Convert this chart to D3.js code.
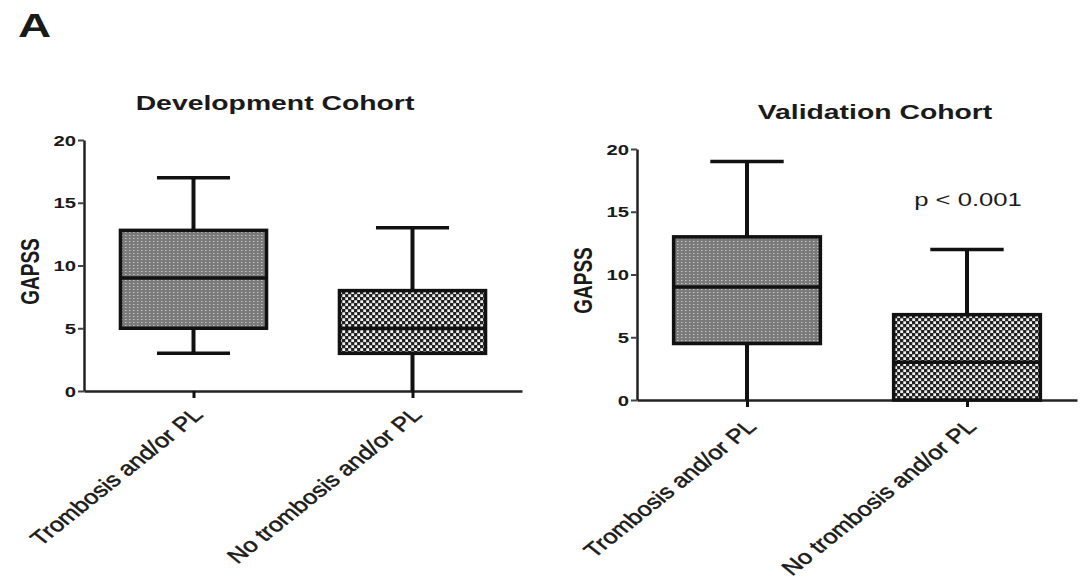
<!DOCTYPE html>
<html>
<head>
<meta charset="utf-8">
<script src="https://cdn.jsdelivr.net/npm/d3@7"></script>
<style>
  body { margin: 0; background: #fff; }
  text { font-family: Arial, "Liberation Sans", sans-serif; fill: #1a1a1a; }
</style>
</head>
<body>
<div class="container"></div>
<script>
// categories and tick labels
let groups = ["Trombosis and/or PL", "No trombosis and/or PL"];
let yTicks = [0, 5, 10, 15, 20];

// Development cohort box stats (per group)
let devMin = [3, 0],
    devQ1 = [5, 3],
    devMed = [9, 5],
    devQ3 = [12.8, 8],
    devMax = [17, 13];

// Validation cohort box stats
let valMin = [0, 0],
    valQ1 = [4.5, 0],
    valMed = [9, 3],
    valQ3 = [13, 6.8],
    valMax = [19, 12];

let sx = 1.35;  // the figure is stretched sideways, text too
let lsx = 1.25; // rotated labels look a bit less stretched

let svg = d3.select('.container')
            .append('svg')
            .attr('width', 1081)
            .attr('height', 581);

let defs = svg.append('defs');

// fine gray dotted fill
let p1 = defs.append('pattern')
             .attr('id', 'dots')
             .attr('patternUnits', 'userSpaceOnUse')
             .attr('width', 4).attr('height', 3);
p1.append('rect').attr('width', 4).attr('height', 3).attr('fill', '#7a7a7a');
p1.append('rect').attr('x', 1).attr('y', 1).attr('width', 1.5).attr('height', 1).attr('fill', '#c4c4c4');

// coarse black/white checker fill
let p2 = defs.append('pattern')
             .attr('id', 'checks')
             .attr('patternUnits', 'userSpaceOnUse')
             .attr('width', 6).attr('height', 6);
p2.append('rect').attr('width', 6).attr('height', 6).attr('fill', '#222');
p2.append('rect').attr('x', 0.3).attr('y', 0.3).attr('width', 2.8).attr('height', 2.7).attr('fill', '#f2f2f2');
p2.append('rect').attr('x', 3.3).attr('y', 3.3).attr('width', 2.8).attr('height', 2.7).attr('fill', '#f2f2f2');

let fills = ['url(#dots)', 'url(#checks)'];

svg.append('text')
   .attr('transform', `translate(18, 37) scale(${sx},1)`)
   .style('font-size', '34px')
   .style('font-weight', 'bold')
   .text('A');

function panel(opt) {
  let x = d3.scalePoint()
            .domain(groups)
            .range([opt.x0, opt.x1])
            .padding(0.5);
  let y = d3.scaleLinear()
            .domain([0, 20])
            .range([opt.yBottom, opt.yTop]);
  let boxW = x.step() * 0.667;

  let g = svg.append('g');

  // y axis
  let yAxis = d3.axisLeft(y).tickValues(yTicks).tickSize(6).tickSizeOuter(0);
  let ya = g.append('g')
            .attr('transform', `translate(${opt.x0}, 0)`)
            .call(yAxis);
  ya.select('.domain').attr('stroke-width', 2.5).attr('stroke', '#222');
  ya.selectAll('.tick line').attr('stroke-width', 2).attr('stroke', '#444');
  ya.selectAll('.tick text')
    .attr('x', null).attr('dy', null)
    .attr('text-anchor', 'end')
    .attr('transform', `translate(-8, 5) scale(${sx},1)`)
    .style('font-size', '15px')
    .style('font-weight', 'bold')
    .style('font-family', 'Arial, "Liberation Sans", sans-serif')
    .attr('fill', '#1a1a1a');

  // x axis
  let xAxis = d3.axisBottom(x).tickSize(7).tickSizeOuter(0);
  let xa = g.append('g')
            .attr('transform', `translate(0, ${opt.yBottom})`)
            .call(xAxis);
  xa.select('.domain').attr('stroke-width', 2.5).attr('stroke', '#222');
  xa.selectAll('.tick line').attr('stroke-width', 3).attr('stroke', '#111');
  xa.selectAll('.tick text')
    .attr('y', null).attr('dy', null)
    .attr('text-anchor', 'end')
    .attr('transform', `translate(10, ${opt.labDy}) scale(${lsx},1) rotate(-45)`)
    .style('font-size', '20px')
    .style('font-family', 'Arial, "Liberation Sans", sans-serif')
    .attr('fill', '#1a1a1a')
    .attr('stroke', '#1a1a1a')
    .attr('stroke-width', 0.5);

  let rows = groups.map((k, i) => ({
    k: k, i: i, min: opt.min[i], q1: opt.q1[i], med: opt.med[i], q3: opt.q3[i], max: opt.max[i]
  }));

  // whiskers
  g.selectAll('.whi-up').data(rows).enter().append('line')
   .attr('x1', d => x(d.k)).attr('x2', d => x(d.k))
   .attr('y1', d => y(d.q3)).attr('y2', d => y(d.max))
   .attr('stroke', '#111').attr('stroke-width', 4);
  g.selectAll('.whi-lo').data(rows.filter(d => d.q1 > d.min)).enter().append('line')
   .attr('x1', d => x(d.k)).attr('x2', d => x(d.k))
   .attr('y1', d => y(d.q1)).attr('y2', d => y(d.min))
   .attr('stroke', '#111').attr('stroke-width', 4);
  g.selectAll('.cap-up').data(rows).enter().append('line')
   .attr('x1', d => x(d.k) - boxW / 4).attr('x2', d => x(d.k) + boxW / 4)
   .attr('y1', d => y(d.max)).attr('y2', d => y(d.max))
   .attr('stroke', '#111').attr('stroke-width', 3.5);
  g.selectAll('.cap-lo').data(rows.filter(d => d.min > 0)).enter().append('line')
   .attr('x1', d => x(d.k) - boxW / 4).attr('x2', d => x(d.k) + boxW / 4)
   .attr('y1', d => y(d.min)).attr('y2', d => y(d.min))
   .attr('stroke', '#111').attr('stroke-width', 3.5);

  // boxes
  g.selectAll('.box').data(rows).enter().append('rect')
   .attr('x', d => x(d.k) - boxW / 2)
   .attr('y', d => y(d.q3))
   .attr('width', boxW)
   .attr('height', d => y(d.q1) - y(d.q3))
   .attr('fill', d => fills[d.i])
   .attr('stroke', '#111')
   .attr('stroke-width', 3.5);

  // medians
  g.selectAll('.med').data(rows).enter().append('line')
   .attr('x1', d => x(d.k) - boxW / 2).attr('x2', d => x(d.k) + boxW / 2)
   .attr('y1', d => y(d.med)).attr('y2', d => y(d.med))
   .attr('stroke', '#111').attr('stroke-width', 3.5);

  // axis title
  g.append('text')
   .attr('transform', `translate(${opt.x0 - 45}, ${(opt.yTop + opt.yBottom) / 2 + 6}) scale(${sx},1) rotate(-90)`)
   .attr('text-anchor', 'middle')
   .style('font-size', '19px')
   .style('font-weight', 'bold')
   .text('GAPSS');

  // panel title
  g.append('text')
   .attr('transform', `translate(${opt.titleX}, ${opt.titleY}) scale(${sx},1)`)
   .attr('text-anchor', 'middle')
   .style('font-size', '21px')
   .style('font-weight', 'bold')
   .text(opt.title);

  if (opt.note) {
    g.append('text')
     .attr('transform', `translate(${opt.note.x}, ${opt.note.y}) scale(${sx},1)`)
     .attr('text-anchor', 'middle')
     .style('font-size', '19px')
     .text(opt.note.text);
  }
}

panel({
  title: 'Development Cohort', titleX: 275, titleY: 110,
  x0: 84, x1: 522, yTop: 140, yBottom: 391, labDy: 25,
  min: devMin, q1: devQ1, med: devMed, q3: devQ3, max: devMax
});

panel({
  title: 'Validation Cohort', titleX: 875, titleY: 119,
  x0: 637, x1: 1077, yTop: 149, yBottom: 400, labDy: 28,
  min: valMin, q1: valQ1, med: valMed, q3: valQ3, max: valMax,
  note: { text: 'p < 0.001', x: 968, y: 206 }
});
</script>
</body>
</html>
